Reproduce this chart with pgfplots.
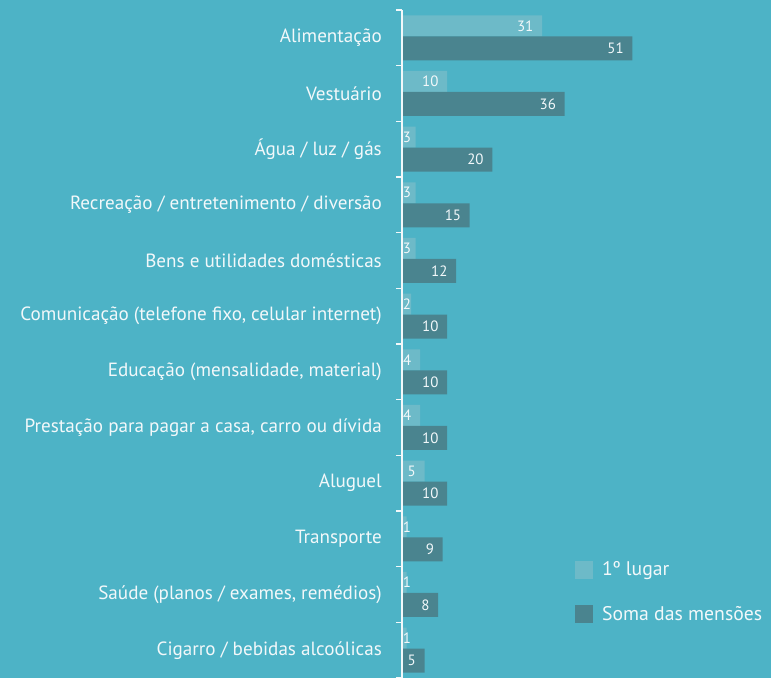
\documentclass[border=0pt]{standalone}
\usepackage{fontspec}
\setmainfont{PT Sans}
\usepackage{pgfplots}
\usepackage{pgfplotstable}
\pgfplotsset{compat=1.18}

\definecolor{bg}{HTML}{4DB3C6}
\definecolor{lightbar}{HTML}{6DBAC8}
\definecolor{darkbar}{HTML}{4A848F}
\definecolor{txt}{HTML}{F2F8FA}

% y: 0 = bottom category
\pgfplotstableread{
y first second
0 1 5
1 1 8
2 1 9
3 5 10
4 4 10
5 4 10
6 2 10
7 3 12
8 3 15
9 3 20
10 10 36
11 31 51
}\gastos

\begin{document}
\begin{tikzpicture}
\fill[bg] (0,0) rectangle (771bp,678bp);
\begin{axis}[
    at={(402bp,0bp)}, anchor=south west,
    width=271bp, height=668bp, scale only axis,
    xmin=0, xmax=60, ymin=-0.5, ymax=11.5,
    axis x line=none,
    axis y line*=left,
    axis line style={txt, line width=1.8pt, -},
    ytick={0,...,11},
    yticklabels={
        Cigarro / bebidas alcoólicas,
        {Saúde (planos / exames, remédios)},
        Transporte,
        Aluguel,
        {Prestação para pagar a casa, carro ou dívida},
        {Educação (mensalidade, material)},
        {Comunicação (telefone fixo, celular internet)},
        Bens e utilidades domésticas,
        Recreação / entretenimento / diversão,
        Água / luz / gás,
        Vestuário,
        Alimentação},
    minor ytick={-0.5,0.5,...,11.5},
    major tick length=0pt,
    minor tick length=6bp,
    tick align=outside,
    minor tick style={txt, line width=1.3pt},
    yticklabel style={font=\fontsize{19.2}{21}\selectfont, text=txt, inner sep=0pt, anchor=east, xshift=-20bp},
    /pgf/number format/assume math mode=true,
    legend style={at={(0.638,0.177)}, anchor=north west, draw=none, fill=none,
        font=\fontsize{19.8}{22}\selectfont, text=txt, row sep=25bp, inner sep=0pt},
    legend cell align=left,
    legend image code/.code={\fill[#1] (0bp,-9bp) rectangle (18bp,9bp);},
    axis on top,
    clip=false,
]
\addplot[xbar, bar width=21bp, bar shift=12bp, fill=lightbar, draw=none] table[x=first, y=y] {\gastos};
\addlegendentry{\hspace{7bp}1º lugar}
\addplot[xbar, bar width=24bp, bar shift=-10.5bp, fill=darkbar, draw=none] table[x=second, y=y] {\gastos};
\addlegendentry{\hspace{7bp}Soma das mensões}
% value labels, kept clear of the axis line for the narrowest bars
\addplot[only marks, mark=none, forget plot, point meta=explicit, nodes near coords,
    nodes near coords style={font=\fontsize{15}{17}\selectfont, text=txt, anchor=east,
        inner sep=0pt, xshift=-8.5bp, yshift=12bp}]
    table[x expr={max(\thisrow{first},3.9)}, y=y, meta=first] {\gastos};
\addplot[only marks, mark=none, forget plot, point meta=explicit, nodes near coords,
    nodes near coords style={font=\fontsize{15}{17}\selectfont, text=txt, anchor=east,
        inner sep=0pt, xshift=-8.5bp, yshift=-10.5bp}]
    table[x expr={max(\thisrow{second},3.9)}, y=y, meta=second] {\gastos};
\end{axis}
\pgfresetboundingbox
\useasboundingbox (0,0) rectangle (771bp,678bp);
\end{tikzpicture}
\end{document}
